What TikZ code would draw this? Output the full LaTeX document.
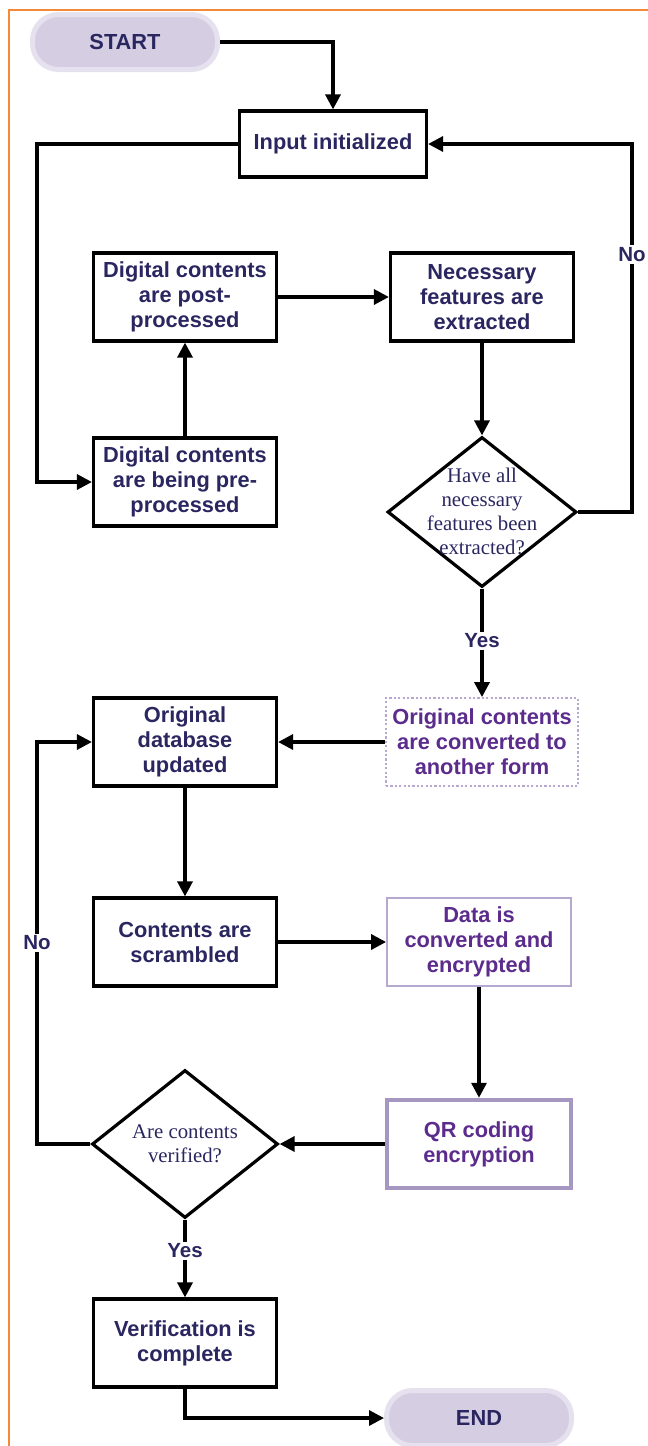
\documentclass[tikz,border=0pt]{standalone}
\usepackage{fontspec}
\setmainfont{Liberation Sans}
\newfontfamily\diafont{Liberation Serif}
\usetikzlibrary{shapes.geometric,arrows.meta}
\definecolor{ink}{HTML}{2A2660}
\definecolor{plum}{HTML}{5B2C8C}
\definecolor{lav}{HTML}{B6A8CF}
\definecolor{lavdeep}{HTML}{A597C0}
\definecolor{pillfill}{HTML}{D5CEE2}
\definecolor{pillrim}{HTML}{E6E1EE}
\definecolor{framecol}{HTML}{F28A3A}
\begin{document}
\begin{tikzpicture}[x=1pt,y=-1pt,
  every node/.style={font=\bfseries\fontsize{21.8}{25}\selectfont, text=ink, align=center},
  box/.style={draw=black, line width=3.2pt, minimum width=183pt, minimum height=88pt, inner sep=0pt},
  softbox/.style={box, draw=lav, line width=1.8pt, text=plum},
  dotbox/.style={softbox, dash pattern=on 2.2pt off 2.2pt},
  qrbox/.style={box, draw=lavdeep, line width=4.5pt, text=plum},
  pill/.style={rounded corners=26pt, fill=pillfill, draw=pillrim, line width=5pt,
    minimum width=185pt, minimum height=55pt, inner sep=0pt},
  dia/.style={diamond, draw=black, line width=3.2pt, inner sep=0pt},
  diatext/.style={font=\diafont\fontsize{20.8}{24}\selectfont, text=ink},
  lbl/.style={fill=white, inner sep=2pt, font=\bfseries\fontsize{20.5}{24}\selectfont},
  flow/.style={draw=black, line width=3.3pt, -{Triangle[length=15pt,width=15pt]}}
]
\useasboundingbox (0,0) rectangle (648,1446);
% page frame
\draw[framecol, line width=1.6pt] (9,1446) -- (9,10) -- (648,10);

% rails for the feedback loops
\coordinate (leftrail) at (37,0);
\coordinate (rightrail) at (632,0);

% nodes
\node[pill] (start) at (125,42) {START};
\node[box, minimum width=187pt, minimum height=66pt] (input) at (333,144) {Input initialized};
\node[box] (post) at (185,297) {Digital contents\\are post-\\processed};
\node[box] (feat) at (482,297) {Necessary\\features are\\extracted};
\node[box] (pre) at (185,482) {Digital contents\\are being pre-\\processed};
\node[dia, minimum width=189pt, minimum height=150pt] (chk) at (482,512) {};
\node[diatext] (chktext) at (482,511) {Have all\\necessary\\features been\\extracted?};
\node[dotbox, minimum width=192pt] (conv) at (482,742) {Original contents\\are converted to\\another form};
\node[box] (db) at (185,742) {Original\\database\\updated};
\node[box] (scr) at (185,942) {Contents are\\scrambled};
\node[softbox, minimum width=184pt] (data) at (479,942) {Data is\\converted and\\encrypted};
\node[qrbox, minimum width=184pt] (qr) at (479,1144) {QR coding\\encryption};
\node[dia, minimum width=186pt, minimum height=148pt] (vchk) at (185,1144) {};
\node[diatext] (vchktext) at (185,1144) {Are contents\\verified?};
\node[box] (done) at (185,1343) {Verification is\\complete};
\node[pill] (end) at (479,1418) {END};

% connectors
\draw[flow] (start.east) -| (input.north);
\draw[flow] (input.west) -- (input.west -| leftrail) |- (pre.west);
\draw[flow] (pre.north) -- (post.south);
\draw[flow] (post.east) -- (feat.west);
\draw[flow] (feat.south) -- (chk.north);
\draw[flow] (chk.east) -- (chk.east -| rightrail) |- node[lbl, pos=0.35] {No} (input.east);
\draw[flow] (chk.south) -- node[lbl, pos=0.48] {Yes} (conv.north);
\draw[flow] (conv.west) -- (db.east);
\draw[flow] (db.south) -- (scr.north);
\draw[flow] (scr.east) -- (data.west);
\draw[flow] (data.south) -- (qr.north);
\draw[flow] (qr.west) -- (vchk.east);
\draw[flow] (vchk.west) -- (vchk.west -| leftrail) |- node[lbl, pos=0.25] {No} (db.west);
\draw[flow] (vchk.south) -- node[lbl, pos=0.4] {Yes} (done.north);
\draw[flow] (done.south) |- (end.west);
\end{tikzpicture}
\end{document}
